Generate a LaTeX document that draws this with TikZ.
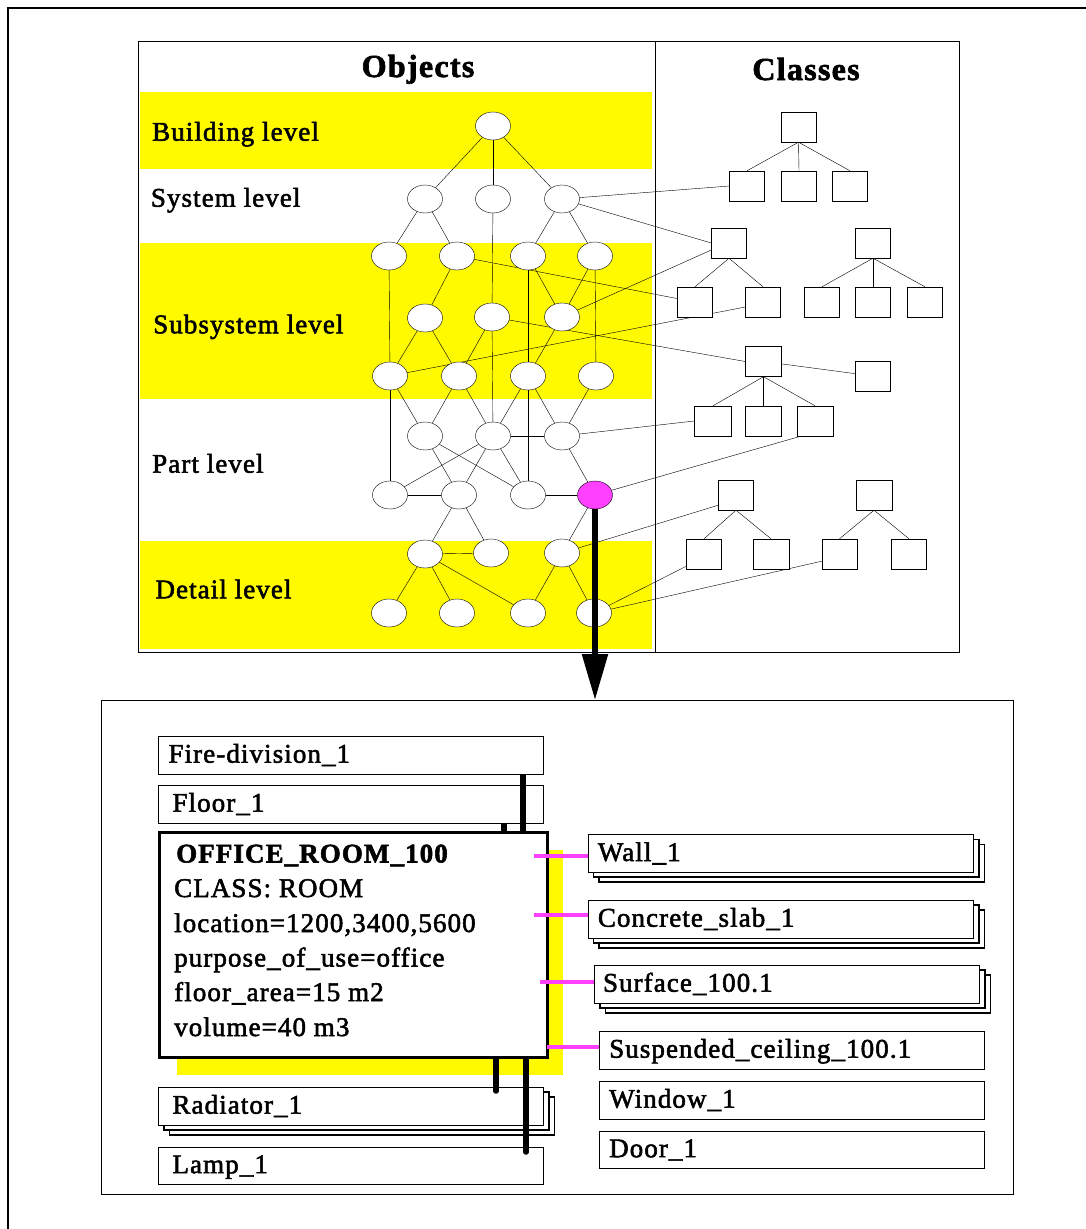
\documentclass[tikz,border=0pt]{standalone}
\usepackage{fontspec}
\setmainfont{Liberation Serif}[LetterSpace=4,FakeBold=2]
\usetikzlibrary{shapes.geometric,arrows.meta,calc,shadows}
\pgfdeclarelayer{back}
\pgfdeclarelayer{bg}
\pgfsetlayers{back,bg,main}
\definecolor{yel}{RGB}{255,250,0}
\definecolor{mag}{RGB}{255,64,255}
\begin{document}
\begin{tikzpicture}[x=1pt,y=-1pt,line width=1.6pt,
  obj/.style={ellipse,draw,fill=white,minimum width=35pt,minimum height=28pt,inner sep=0pt},
  cls/.style={rectangle,draw,fill=white,minimum width=35pt,minimum height=30pt,inner sep=0pt},
  lvl/.style={anchor=base west,inner sep=0pt,font=\fontsize{27}{32}\selectfont},
  hdr/.style={anchor=base,inner sep=0pt,font=\fontsize{32}{36}\selectfont\bfseries},
  txt/.style={anchor=base west,inner sep=0pt,font=\fontsize{27}{32}\selectfont},
  lbox/.style={rectangle,draw,fill=white,anchor=north west,inner ysep=0pt,inner xsep=10pt,
     text width=365pt,text height=26.5pt,text depth=11pt,align=left,font=\fontsize{27}{32}\selectfont},
  stack/.style={double copy shadow={shadow xshift=5.5pt,shadow yshift=-5pt,fill=white,draw=black,line width=1.6pt}},
  thk/.style={line width=5.5pt},
  magl/.style={line width=4pt,draw=mag}
]
\useasboundingbox (0,0) rectangle (1086,1229);
% outer frame
\draw[line width=2.5pt] (8,1229) -- (8,8) -- (1086,8);

% ---------- top panel ----------
\begin{pgfonlayer}{back}
\fill[yel] (140,92) rectangle (652,169);
\fill[yel] (140,243) rectangle (652,399);
\fill[yel] (140,541) rectangle (652,649);
\end{pgfonlayer}
\draw (138,41) rectangle (959,652);
\draw (655,41) -- (655,652);

\node[hdr] (hobj) at (418,77) {Objects};
\node[hdr] (hcls) at (806,80) {Classes};
\node[lvl] (l1) at (152,140.7) {Building level};
\node[lvl] (l2) at (150.7,206.7) {System level};
\node[lvl] (l3) at (153,333.3) {Subsystem level};
\node[lvl] (l4) at (152,472.7) {Part level};
\node[lvl] (l5) at (155.3,598.3) {Detail level};

% object ellipses
\node[obj] (A0) at (493,126) {};
\node[obj] (S1) at (425,199) {};
\node[obj] (S2) at (493,199) {};
\node[obj] (S3) at (562,199) {};
\node[obj] (P1) at (389,256) {};
\node[obj] (P2) at (457,256) {};
\node[obj] (P3) at (528,256) {};
\node[obj] (P4) at (595,256) {};
\node[obj] (Q1) at (425,318) {};
\node[obj] (Q2) at (492,317) {};
\node[obj] (Q3) at (562,317) {};
\node[obj] (R1) at (390,376) {};
\node[obj] (R2) at (459,376) {};
\node[obj] (R3) at (528,376) {};
\node[obj] (R4) at (596,376) {};
\node[obj] (T1) at (425,436) {};
\node[obj] (T2) at (493,436) {};
\node[obj] (T3) at (562,436) {};
\node[obj] (U1) at (390,495) {};
\node[obj] (U2) at (459,495) {};
\node[obj] (U3) at (528,495) {};
\node[obj,fill=mag] (U4) at (595,495) {};
\node[obj] (V1) at (425,554) {};
\node[obj] (V2) at (491,553) {};
\node[obj] (V3) at (562,553) {};
\node[obj] (W1) at (389,613) {};
\node[obj] (W2) at (457,613) {};
\node[obj] (W3) at (528,613) {};
\node[obj] (W4) at (594,613) {};

% class boxes
\node[cls] (C1) at (798.5,127) {};
\node[cls] (C1a) at (747,186) {};
\node[cls] (C1b) at (799,186) {};
\node[cls] (C1c) at (850,186) {};
\node[cls] (C2) at (729,243) {};
\node[cls] (C2a) at (695,302) {};
\node[cls] (C2b) at (763,302) {};
\node[cls] (D) at (873,243) {};
\node[cls] (Da) at (822,302) {};
\node[cls] (Db) at (873,302) {};
\node[cls] (Dc) at (925,302) {};
\node[cls,minimum width=36pt] (C3) at (763.5,361.5) {};
\node[cls] (C3x) at (873,376) {};
\node[cls,minimum width=37pt] (C3a) at (713,421) {};
\node[cls,minimum width=36pt] (C3b) at (763.5,421) {};
\node[cls,minimum width=36pt] (C3c) at (815,421) {};
\node[cls] (C4) at (736,495) {};
\node[cls] (C4a) at (704,554) {};
\node[cls,minimum width=36pt] (C4b) at (771,554) {};
\node[cls,minimum width=36pt] (C5) at (874,495) {};
\node[cls] (C5a) at (839.5,554) {};
\node[cls] (C5b) at (909,554) {};

\begin{pgfonlayer}{bg}
\foreach \a/\b in {A0/S1,A0/S2,A0/S3,S1/P1,S1/P2,S2/Q2,S3/P3,S3/P4,
  P1/R1,P2/Q1,P3/Q3,P3/R3,P4/Q3,P4/R4,Q1/R1,Q1/R2,Q2/R2,Q2/T2,Q3/R3,
  R1/U1,R1/T1,R2/T1,R2/T2,R3/T2,R3/T3,R3/U3,R4/T3,
  T1/U2,T1/U3,T2/U1,T2/U2,T2/U3,T2/T3,T3/U4,U1/U2,U3/U4,
  U2/V1,U2/V2,V1/V2,U4/V3,V1/W1,V1/W2,V1/W3,V3/W3,V3/W4}
  \draw (\a) -- (\b);
\foreach \r/\c in {C1/C1a,C1/C1b,C1/C1c,C2/C2a,C2/C2b,D/Da,D/Db,D/Dc,
  C3/C3a,C3/C3b,C3/C3c,C4/C4a,C4/C4b,C5/C5a,C5/C5b}
  \draw (\r.south) -- (\c.north);
\draw (C3) -- (C3x);
\draw (S3) -- (C1a.west);
\draw (S3) -- (C2.west);
\draw (P2) -- (C2a);
\draw (Q3) -- ([yshift=-7pt]C2.west);
\draw (R1) -- ([yshift=-5pt]C2b.west);
\draw (Q2) -- (C3.west);
\draw (T3) -- (C3a.west);
\draw (U4) -- ([xshift=4pt]C3c.south west);
\draw (V3) -- ([yshift=5pt]C4.south west);
\draw (W4) -- ([yshift=3pt]C4a.south west);
\draw (W4) -- ([yshift=8pt]C5a.south west);
\end{pgfonlayer}

% big arrow
\coordinate (arrtip) at (595,700);
\draw[thk,-{Triangle[length=46pt,width=25pt]}] (U4.south) -- (arrtip);

% ---------- lower panel ----------
\draw (101,700) rectangle (1013,1194);
\begin{pgfonlayer}{back}
\fill[yel] (177,850) rectangle (563,1075);
\end{pgfonlayer}

\node[lbox] (fire) at (158.3,736) {Fire-division\_1};
\node[lbox,inner xsep=14pt,text width=357pt] (floor) at (158.3,785) {Floor\_1};
\node[draw,line width=2.6pt,fill=white,minimum width=388pt,minimum height=225pt,inner sep=0pt,anchor=north west] (office) at (158.3,831) {};
\node[txt,font=\fontsize{27}{32}\selectfont\bfseries] (o1) at (176,862.5) {OFFICE\_ROOM\_100};
\node[txt] (o2) at (174,897) {CLASS: ROOM};
\node[txt] (o3) at (174,932) {location=1200,3400,5600};
\node[txt] (o4) at (174,966.5) {purpose\_of\_use=office};
\node[txt] (o5) at (174,1001) {floor\_area=15 m2};
\node[txt] (o6) at (174,1036) {volume=40 m3};

\node[lbox,stack,inner xsep=14pt,text width=357pt] (rad) at (158.3,1087) {Radiator\_1};
\node[lbox,inner xsep=14pt,text width=357pt] (lamp) at (158.3,1146.5) {Lamp\_1};

\node[lbox,stack,text width=365.6pt] (wall) at (587.7,834.3) {Wall\_1};
\node[lbox,stack,text width=365.6pt] (slab) at (587.7,900) {Concrete\_slab\_1};
\node[lbox,stack,inner xsep=8.5pt,text width=368pt] (surf) at (594.3,965) {Surface\_100.1};
\node[lbox] (susp) at (599,1031) {Suspended\_ceiling\_100.1};
\node[lbox] (win) at (599,1081) {Window\_1};
\node[lbox] (door) at (599,1130.5) {Door\_1};

% thick connectors
\coordinate (xa) at (523,0);
\coordinate (xb) at (504,0);
\draw[thk] (fire.south -| xa) -- (office.north -| xa);
\draw[thk] (floor.south -| xb) -- (office.north -| xb);
\coordinate (rend) at (496,1091);
\coordinate (lend) at (526,1152);
\draw[thk,line cap=round] (office.south -| rend) -- (rend);
\draw[thk,line cap=round] (office.south -| lend) -- (lend);

% magenta connectors
\coordinate (m1) at (534,856);
\coordinate (m2) at (534,915);
\coordinate (m3) at (540,982);
\coordinate (m4) at (547,1047);
\draw[magl] (m1) -- (wall.west |- m1);
\draw[magl] (m2) -- (slab.west |- m2);
\draw[magl] (m3) -- (surf.west |- m3);
\draw[magl] (m4) -- (susp.west |- m4);
\end{tikzpicture}
\end{document}
